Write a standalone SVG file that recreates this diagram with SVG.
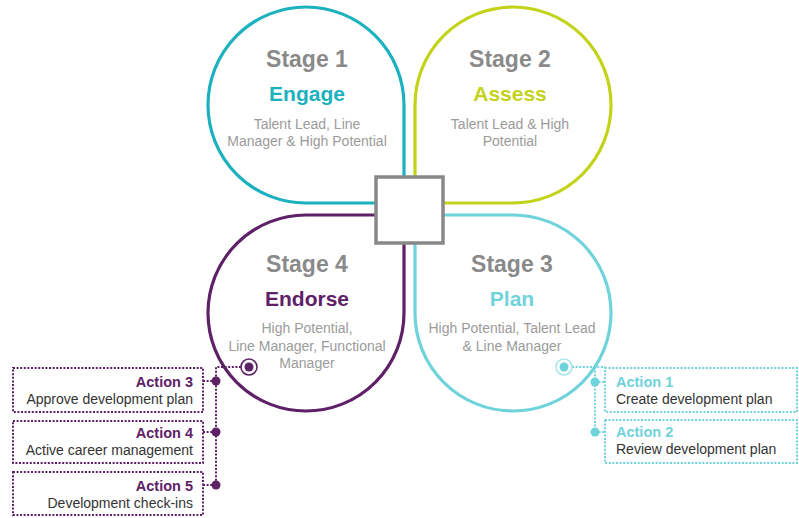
<svg xmlns="http://www.w3.org/2000/svg" width="799" height="518" viewBox="0 0 799 518">
  <style>
    .petal { fill: #ffffff; stroke-width: 3.2; }
    .stage { font-family: "Liberation Sans", Arial, sans-serif; font-weight: bold; font-size: 23px; fill: #8a8a8a; text-anchor: middle; }
    .name { font-family: "Liberation Sans", Arial, sans-serif; font-weight: bold; font-size: 21px; text-anchor: middle; }
    .who { font-family: "Liberation Sans", Arial, sans-serif; font-size: 14px; fill: #9b9b9b; text-anchor: middle; }
    .act { font-family: "Liberation Sans", Arial, sans-serif; font-weight: bold; font-size: 14.5px; }
    .desc { font-family: "Liberation Sans", Arial, sans-serif; font-size: 14px; fill: #333333; }
    .dot { fill: none; stroke-width: 2; stroke-dasharray: 2 1.6; }
    .purple { stroke: #5e2167; }
    .aqua { stroke: #6fd3dc; }
  </style>

  <!-- four petals around the centre square -->
  <g id="stage1">
    <path class="petal" stroke="#1cb1be" d="M404,105 A98,98 0 1 0 306,203 L394,203 Q404,203 404,193 Z"/>
    <text class="stage" x="307" y="67">Stage 1</text>
    <text class="name" x="307" y="101" fill="#1cb1be">Engage</text>
    <text class="who" x="307" y="129">Talent Lead, Line</text>
    <text class="who" x="307" y="146">Manager &amp; High Potential</text>
  </g>

  <g id="stage2">
    <path class="petal" stroke="#c2d31a" d="M513,203 A98,98 0 1 0 415,105 L415,193 Q415,203 425,203 Z"/>
    <text class="stage" x="510" y="67">Stage 2</text>
    <text class="name" x="510" y="101" fill="#c2d31a">Assess</text>
    <text class="who" x="510" y="129">Talent Lead &amp; High</text>
    <text class="who" x="510" y="146">Potential</text>
  </g>

  <g id="stage4">
    <path class="petal" stroke="#5e2167" d="M306,215 A98,98 0 1 0 404,313 L404,225 Q404,215 394,215 Z"/>
    <text class="stage" x="307" y="272">Stage 4</text>
    <text class="name" x="307" y="306" fill="#5e2167">Endorse</text>
    <text class="who" x="307" y="333">High Potential,</text>
    <text class="who" x="307" y="351">Line Manager, Functional</text>
    <text class="who" x="307" y="368">Manager</text>
  </g>

  <g id="stage3">
    <path class="petal" stroke="#6fd3dc" d="M415,313 A98,98 0 1 0 513,215 L425,215 Q415,215 415,225 Z"/>
    <text class="stage" x="512" y="272">Stage 3</text>
    <text class="name" x="512" y="306" fill="#6fd3dc">Plan</text>
    <text class="who" x="512" y="333">High Potential, Talent Lead</text>
    <text class="who" x="512" y="351">&amp; Line Manager</text>
  </g>

  <g id="centre">
    <rect x="376" y="177" width="67" height="66" fill="#ffffff" stroke="#888888" stroke-width="3.5"/>
  </g>

  <!-- dotted connectors from the petal targets to the action boxes -->
  <g id="connectors">
    <path class="dot purple" d="M241,367 H216 V485"/>
    <path class="dot purple" d="M203,381 H216 M203,432 H216 M203,485 H216"/>
    <circle cx="216" cy="381" r="4.5" fill="#5e2167"/>
    <circle cx="216" cy="432" r="4.5" fill="#5e2167"/>
    <circle cx="216" cy="485" r="4.5" fill="#5e2167"/>
    <circle cx="249" cy="367" r="8" fill="#ffffff" stroke="#5e2167" stroke-width="1.6"/>
    <circle cx="249" cy="367" r="4.5" fill="#5e2167"/>

    <path class="dot aqua" d="M572,367 H605 M595,367 V432"/>
    <path class="dot aqua" d="M595,382 H605 M595,432 H605"/>
    <circle cx="595" cy="382" r="4.5" fill="#6fd3dc"/>
    <circle cx="595" cy="432" r="4.5" fill="#6fd3dc"/>
    <circle cx="564" cy="367" r="8" fill="#ffffff" stroke="#a8e4e9" stroke-width="1.6"/>
    <circle cx="564" cy="367" r="4.5" fill="#6fd3dc"/>
  </g>

  <!-- action boxes -->
  <g id="action3">
    <rect class="dot purple" x="13" y="368" width="190" height="44"/>
    <text class="act" x="193" y="387" text-anchor="end" fill="#5e2167">Action 3</text>
    <text class="desc" x="193" y="404" text-anchor="end">Approve development plan</text>
  </g>
  <g id="action4">
    <rect class="dot purple" x="13" y="421" width="190" height="42"/>
    <text class="act" x="193" y="438" text-anchor="end" fill="#5e2167">Action 4</text>
    <text class="desc" x="193" y="455" text-anchor="end">Active career management</text>
  </g>
  <g id="action5">
    <rect class="dot purple" x="13" y="472" width="190" height="43"/>
    <text class="act" x="193" y="491" text-anchor="end" fill="#5e2167">Action 5</text>
    <text class="desc" x="193" y="508" text-anchor="end">Development check-ins</text>
  </g>
  <g id="action1">
    <rect class="dot aqua" x="605" y="368" width="192" height="44"/>
    <text class="act" x="616" y="387" fill="#6fd3dc">Action 1</text>
    <text class="desc" x="616" y="404">Create development plan</text>
  </g>
  <g id="action2">
    <rect class="dot aqua" x="605" y="420" width="192" height="43"/>
    <text class="act" x="616" y="437" fill="#6fd3dc">Action 2</text>
    <text class="desc" x="616" y="454">Review development plan</text>
  </g>
</svg>
